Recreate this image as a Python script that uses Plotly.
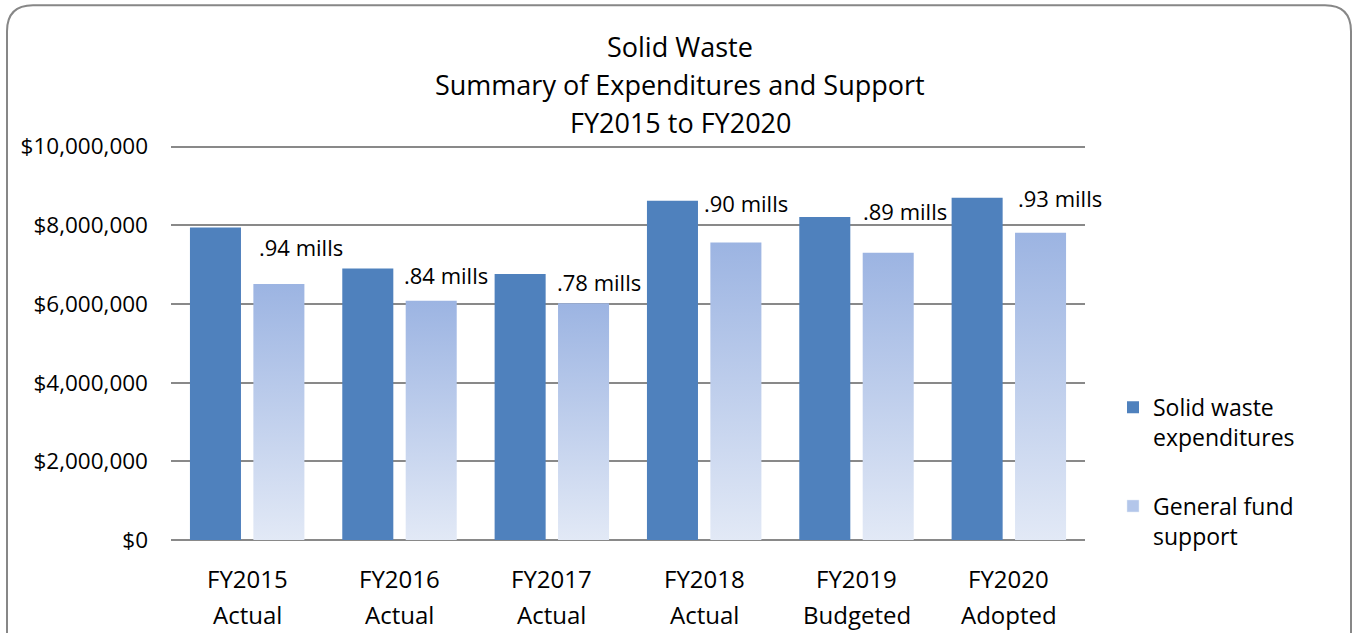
import plotly.graph_objects as go

# ---- data ----
fy_labels = ["FY2015", "FY2016", "FY2017", "FY2018", "FY2019", "FY2020"]
fy_kinds = ["Actual", "Actual", "Actual", "Actual", "Budgeted", "Adopted"]
expenditures = [7940000, 6900000, 6760000, 8620000, 8210000, 8700000]
general_support = [6510000, 6080000, 6020000, 7560000, 7300000, 7810000]
mills_labels = [".94 mills", ".84 mills", ".78 mills", ".90 mills", ".89 mills", ".93 mills"]
y_tick_vals = [0, 2000000, 4000000, 6000000, 8000000, 10000000]
y_tick_text = ["$0", "$2,000,000", "$4,000,000", "$6,000,000", "$8,000,000", "$10,000,000"]
title_lines = ["Solid Waste", "Summary of Expenditures and Support", "FY2015 to FY2020"]

# ---- styling ----
FONT = "Open Sans"
DARK = "#4F81BD"
LIGHT_TOP = "#9CB4E2"
LIGHT_BOTTOM = "#E2E9F6"
GRID = "#898989"
BAR_W = 0.335
DARK_OFF = -0.3756
LIGHT_OFF = 0.0407
label_xshift = [22, 15, 15, 10, 17, 19]
label_yshift = [20, 9, 4, 23, 25, 18]

# pixel geometry of plot area (value 0 at B, value 10M at T)
L, R, T, B = 171, 1085, 146.5, 540.5
W, H = 1353, 633
Y_MAX = 10000000
Y_TOP = 10040000
PX_PER_UNIT = (B - T) / Y_MAX
T_PLOT = B - Y_TOP * PX_PER_UNIT

fig = go.Figure()

x_idx = list(range(len(fy_labels)))

fig.add_trace(go.Bar(
    x=x_idx, y=expenditures, width=BAR_W, offset=DARK_OFF,
    marker=dict(color=DARK, line=dict(width=0)),
    name="Solid waste<br>expenditures", legendgroup="a",
))

for i, v in zip(x_idx, general_support):
    x0 = i + LIGHT_OFF
    x1 = x0 + BAR_W
    fig.add_trace(go.Scatter(
        x=[x0, x1, x1, x0, x0], y=[0, 0, v, v, 0],
        mode="lines", line=dict(width=0), fill="toself",
        fillgradient=dict(type="vertical",
                          colorscale=[[0, LIGHT_BOTTOM], [1, LIGHT_TOP]]),
        showlegend=False, hoverinfo="skip",
    ))

fig.add_trace(go.Bar(
    x=[None], y=[None], marker=dict(color="#B3C6EA"),
    name="General fund<br>support", legendgroup="b",
))

def py2paper(py):
    return (B - py) / (B - T_PLOT)

def px2paper(px):
    return (px - L) / (R - L)

annotations = []
for i, v, t, xs, ys in zip(x_idx, general_support, mills_labels, label_xshift, label_yshift):
    annotations.append(dict(
        x=i + LIGHT_OFF + BAR_W / 2, y=v, xref="x", yref="y", text=t,
        showarrow=False, xanchor="center", yanchor="bottom",
        xshift=xs, yshift=ys, font=dict(family=FONT, size=22, color="#000"),
    ))

for i, (yr, kind) in enumerate(zip(fy_labels, fy_kinds)):
    annotations.append(dict(x=i, y=py2paper(579), xref="x", yref="paper", text=yr,
                            showarrow=False, xanchor="center", yanchor="middle",
                            font=dict(family=FONT, size=24, color="#000")))
    annotations.append(dict(x=i, y=py2paper(615), xref="x", yref="paper", text=kind,
                            showarrow=False, xanchor="center", yanchor="middle",
                            font=dict(family=FONT, size=24, color="#000")))

for line, py in zip(title_lines, [46, 84, 122]):
    annotations.append(dict(x=px2paper(680), y=py2paper(py), xref="paper", yref="paper",
                            text=line, showarrow=False, xanchor="center", yanchor="middle",
                            font=dict(family=FONT, size=27, color="#000")))

# rounded frame
fl, ft, fr, fb, rad = 7, 5, 1351, 660, 26
def P(px, py):
    return f"{px2paper(px)},{py2paper(py)}"
frame_path = (f"M {P(fl, fb)} L {P(fl, ft + rad)} Q {P(fl, ft)} {P(fl + rad, ft)} "
              f"L {P(fr - rad, ft)} Q {P(fr, ft)} {P(fr, ft + rad)} L {P(fr, fb)}")

fig.update_layout(
    width=W, height=H,
    margin=dict(l=L, r=W - R, t=T_PLOT, b=H - B, pad=0),
    paper_bgcolor="white", plot_bgcolor="white",
    font=dict(family=FONT, size=22, color="#000"),
    showlegend=True,
    legend=dict(x=px2paper(1113), y=py2paper(386), xanchor="left", yanchor="top",
                valign="top", tracegroupgap=36, traceorder="grouped",
                font=dict(family=FONT, size=23, color="#000"), bgcolor="rgba(0,0,0,0)"),
    xaxis=dict(range=[-0.5, 5.5], showticklabels=False, showgrid=False,
               zeroline=False, showline=False, ticks="", fixedrange=True),
    yaxis=dict(range=[0, Y_TOP], tickvals=y_tick_vals, ticktext=y_tick_text,
               showgrid=True, gridcolor=GRID, gridwidth=1.5, zeroline=True,
               zerolinecolor=GRID, zerolinewidth=2, showline=False, ticks="",
               ticklabelstandoff=22, tickfont=dict(family=FONT, size=22.5, color="#000")),
    annotations=annotations,
    shapes=[dict(type="path", path=frame_path, xref="paper", yref="paper",
                 line=dict(color="#878787", width=2), fillcolor="rgba(0,0,0,0)")],
)

fig.write_html("out.html", config={"displayModeBar": False},
               post_script="document.body.style.margin='0px';")
